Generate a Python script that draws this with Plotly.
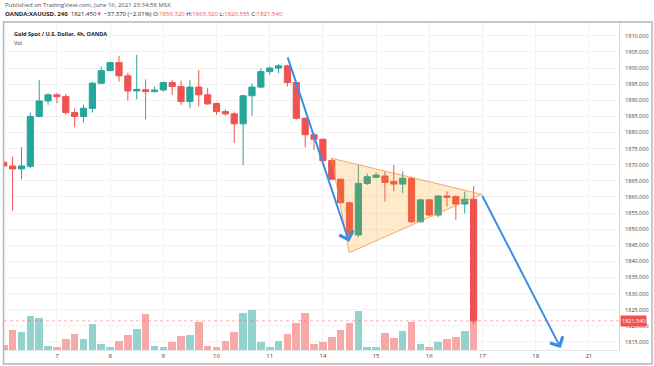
import plotly.graph_objects as go

# ---- data ----
bar_index = list(range(54))
open_ = [1870.8, 1869.6, 1868.7, 1869.5, 1885.0, 1889.8, 1891.7, 1891.2, 1886.2, 1885.0,
         1887.5, 1895.3, 1899.2, 1901.7, 1897.6, 1892.9, 1893.3, 1892.7, 1893.2, 1895.5,
         1894.3, 1889.6, 1894.1, 1891.7, 1889.0, 1886.5, 1885.8, 1882.7, 1891.4, 1894.1,
         1898.9, 1900.0, 1900.7, 1895.5, 1884.4, 1879.3, 1877.9, 1871.3, 1865.5, 1858.2,
         1848.2, 1864.2, 1866.1, 1866.5, 1864.8, 1864.0, 1865.8, 1852.3, 1859.1, 1854.4,
         1860.3, 1860.1, 1857.8, 1859.32]
high = [1871.3, 1872.5, 1875.4, 1886.2, 1896.3, 1892.2, 1892.2, 1892.0, 1887.5, 1888.6,
        1895.8, 1900.5, 1902.0, 1903.8, 1898.6, 1904.1, 1896.5, 1894.3, 1895.8, 1896.3,
        1896.1, 1896.3, 1899.4, 1893.8, 1889.3, 1887.2, 1886.5, 1891.7, 1895.3, 1900.0,
        1900.5, 1901.3, 1901.0, 1895.8, 1884.7, 1879.8, 1878.2, 1872.0, 1865.7, 1858.4,
        1869.9, 1867.3, 1867.6, 1867.9, 1869.9, 1867.9, 1866.3, 1859.4, 1859.4, 1860.6,
        1861.7, 1860.6, 1861.7, 1863.32]
low = [1869.3, 1855.8, 1865.5, 1868.9, 1884.7, 1888.6, 1889.1, 1885.5, 1881.6, 1883.1,
       1886.2, 1895.0, 1899.0, 1895.8, 1889.9, 1890.3, 1884.1, 1892.4, 1892.7, 1891.7,
       1888.6, 1887.5, 1888.1, 1888.6, 1885.5, 1885.2, 1876.7, 1869.9, 1885.2, 1893.8,
       1897.9, 1898.4, 1894.3, 1884.0, 1875.4, 1874.6, 1871.0, 1865.3, 1858.0, 1846.9,
       1847.5, 1863.7, 1865.8, 1858.6, 1861.7, 1861.1, 1851.9, 1852.0, 1854.1, 1853.7,
       1857.0, 1852.9, 1854.9, 1820.555]
close = [1869.6, 1868.7, 1869.6, 1885.0, 1889.8, 1891.7, 1891.1, 1886.2, 1885.0, 1887.5,
         1895.3, 1899.2, 1901.7, 1897.6, 1892.9, 1893.4, 1892.7, 1893.2, 1895.5, 1894.3,
         1889.6, 1894.1, 1891.7, 1888.9, 1886.5, 1885.8, 1882.7, 1891.4, 1894.1, 1898.9,
         1900.0, 1900.7, 1895.5, 1884.4, 1879.3, 1877.9, 1871.3, 1865.5, 1858.2, 1848.2,
         1864.2, 1866.3, 1866.8, 1864.5, 1864.0, 1865.8, 1852.3, 1859.1, 1854.4, 1860.3,
         1859.9, 1857.8, 1859.3, 1821.54]
volume = [15, 60, 55, 103, 97, 12, 8, 33, 47, 33,
          77, 18, 8, 27, 44, 62, 107, 12, 8, 25,
          43, 44, 84, 12, 8, 27, 55, 110, 120, 23,
          8, 27, 47, 80, 110, 18, 23, 40, 60, 80,
          118, 10, 10, 52, 37, 58, 84, 18, 8, 23,
          32, 40, 58, 150]

day_ticks = [6, 12, 18, 24, 30, 36, 42, 48, 54, 60, 66]
day_labels = ['7', '8', '9', '10', '11', '14', '15', '16', '17', '18', '21']
price_ticks = [1815, 1820, 1825, 1830, 1835, 1840, 1845, 1850, 1855, 1860,
               1865, 1870, 1875, 1880, 1885, 1890, 1895, 1900, 1905, 1910]

# drawings (in bar-index / price units)
arrow1_x = [31.97, 38.96]
arrow1_y = [1903.8, 1846.1]
arrow2_x = [53.89, 62.83]
arrow2_y = [1860.84, 1813.1]
tri_x = [36.98, 53.89, 38.96]
tri_y = [1872.0, 1860.84, 1842.7]

UP = '#26a69a'
DOWN = '#ef5350'
VOL_UP = '#92d3cd'
VOL_DOWN = '#f7a9a8'
BLUE = '#3a8ee6'
FONT = 'Open Sans'

vol_colors = [VOL_UP if c >= o else VOL_DOWN for o, c in zip(open_, close)]

fig = go.Figure()
fig.add_trace(go.Bar(x=bar_index, y=volume, marker=dict(color=vol_colors, line=dict(width=0)),
                     width=0.86, yaxis='y', hoverinfo='skip'))
fig.add_trace(go.Candlestick(x=bar_index, open=open_, high=high, low=low, close=close,
                             yaxis='y2',
                             increasing=dict(line=dict(color=UP, width=1), fillcolor=UP),
                             decreasing=dict(line=dict(color=DOWN, width=1), fillcolor=DOWN),
                             whiskerwidth=0))

shapes = []
path = 'M {},{} L {},{} L {},{} Z'.format(tri_x[0], tri_y[0], tri_x[1], tri_y[1], tri_x[2], tri_y[2])
shapes.append(dict(type='path', path=path, xref='x', yref='y2',
                   fillcolor='rgba(255,152,0,0.2)', line=dict(color='rgba(245,150,80,0.8)', width=1),
                   layer='above'))
shapes.append(dict(type='line', xref='paper', x0=0, x1=1, yref='y2', y0=close[-1], y1=close[-1],
                   line=dict(color='rgba(239,83,80,0.45)', width=1, dash='dot')))
shapes.append(dict(type='rect', xref='paper', yref='paper', x0=-0.0008, x1=1.0537, y0=-0.0427, y1=1.0,
                   line=dict(color='#b5b5b5', width=1.5), fillcolor='rgba(0,0,0,0)'))

annotations = []
for ax_, ay_ in [(arrow1_x, arrow1_y), (arrow2_x, arrow2_y)]:
    annotations.append(dict(x=ax_[1], y=ay_[1], ax=ax_[0], ay=ay_[0], xref='x', yref='y2',
                            axref='x', ayref='y2', showarrow=True, text='',
                            arrowhead=4, arrowsize=1.4, arrowwidth=2, arrowcolor=BLUE))

annotations.append(dict(x=1, xref='paper', xanchor='left', xshift=1, y=close[-1], yref='y2',
                        text='{:.3f}'.format(close[-1]), showarrow=False, bgcolor=DOWN,
                        font=dict(color='white', size=5.5, family=FONT), borderpad=1))

R = '#ef5350'
annotations.append(dict(x=-0.0016, y=1.0518, xref='paper', yref='paper', xanchor='left', yanchor='middle',
                        showarrow=False, text='Published on TradingView.com, June 16, 2021 23:34:58 MSK',
                        font=dict(size=6, color='#555', family=FONT)))
hdr = ("<b>OANDA:XAUUSD, 240</b>  1821.450<span style='color:{r}'>▼</span> −37.370 (−2.01%) "
       "O:<span style='color:{r}'>1859.320</span> H:<span style='color:{r}'>1863.320</span> "
       "L:<span style='color:{r}'>1820.555</span> C:<span style='color:{r}'>1821.540</span>").format(r=R)
annotations.append(dict(x=-0.0016, y=1.0244, xref='paper', yref='paper', xanchor='left', yanchor='middle',
                        showarrow=False, text=hdr, font=dict(size=6, color='#222', family=FONT)))
annotations.append(dict(x=0.013, y=0.9634, xref='paper', yref='paper', xanchor='left', yanchor='middle',
                        showarrow=False, text='<b>Gold Spot / U.S. Dollar, 4h, OANDA</b>',
                        font=dict(size=5.5, color='#222', family=FONT)))
annotations.append(dict(x=0.013, y=0.936, xref='paper', yref='paper', xanchor='left', yanchor='middle',
                        showarrow=False, text='Vol', font=dict(size=5.5, color='#333', family=FONT)))

fig.update_layout(
    width=654, height=366,
    margin=dict(l=4, r=35, t=22, b=16),
    plot_bgcolor='white', paper_bgcolor='white',
    showlegend=False, bargap=0, boxgap=0.3, boxgroupgap=0,
    font=dict(family=FONT),
    xaxis=dict(range=[0.03, 69.4], tickvals=day_ticks, ticktext=day_labels,
               showgrid=True, gridcolor='#f2f2f2', zeroline=False,
               rangeslider=dict(visible=False), ticks='', ticklen=0,
               tickfont=dict(size=6, color='#444', family=FONT),
               showline=True, linecolor='#e6e6e6'),
    yaxis=dict(range=[0, 984], visible=False, fixedrange=True),
    yaxis2=dict(overlaying='y', side='right', range=[1812.5, 1914.3], tickvals=price_ticks,
                tickformat='.3f', showgrid=True, gridcolor='#f2f2f2', zeroline=False, ticks='', ticklen=0,
                tickfont=dict(size=5.5, color='#444', family=FONT), ticklabelstandoff=4,
                showline=True, linecolor='#d9d9d9'),
    shapes=shapes,
    annotations=annotations,
)

fig.write_html('out.html', config={'displayModeBar': False},
               post_script="document.body.style.margin='0';document.body.style.overflow='hidden';")
